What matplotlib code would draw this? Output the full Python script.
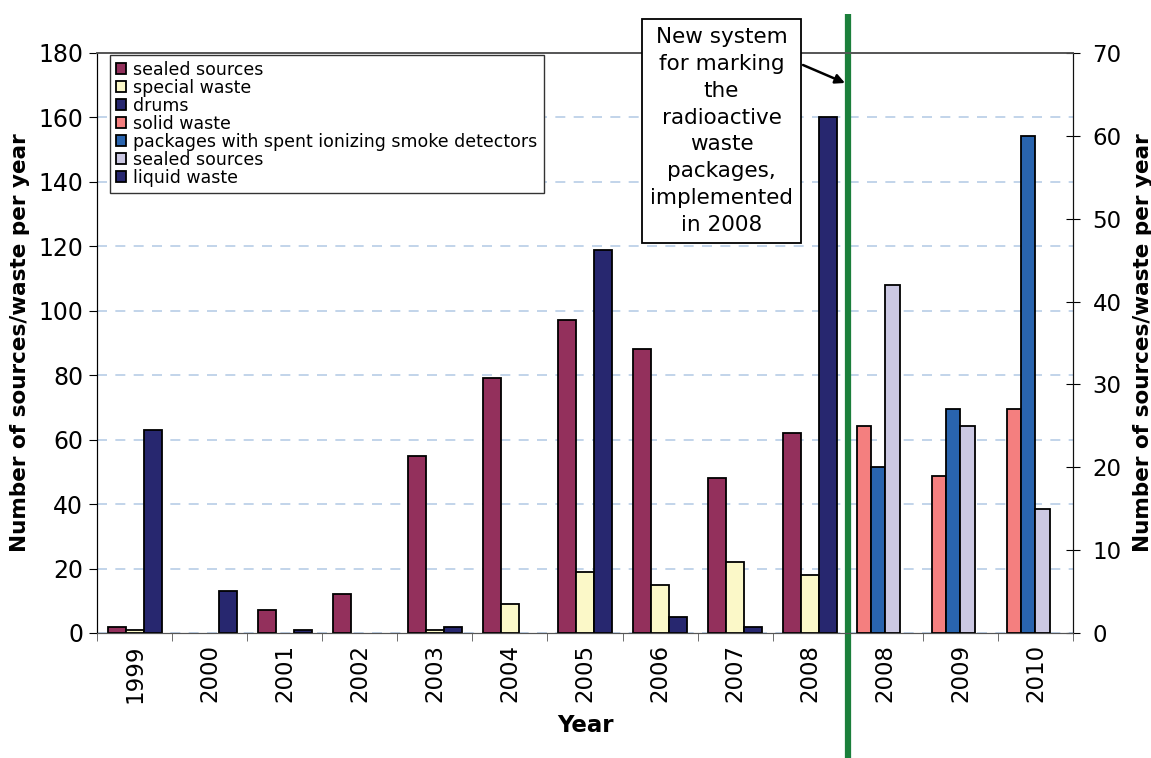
import numpy as np
import matplotlib
matplotlib.use('Agg')
import matplotlib.pyplot as plt
from matplotlib.ticker import MultipleLocator, FixedLocator

# Categories along the x axis (2008 appears twice: old and new marking system)
years = ['1999', '2000', '2001', '2002', '2003', '2004', '2005', '2006',
         '2007', '2008', '2008', '2009', '2010']

# Old system, left axis (1999-2008)
sealed_sources = [2, 0, 7, 12, 55, 79, 97, 88, 48, 62]
special_waste = [1, 0, 0, 0, 1, 9, 19, 15, 22, 18]
drums = [63, 13, 1, 0, 2, 0, 119, 5, 2, 160]

# New system, right axis (2008-2010)
solid_waste = [25, 19, 27]
smoke_detector_packages = [20, 27, 60]
sealed_sources_new = [42, 25, 15]
liquid_waste = [0, 0, 0]

W, H = 1151, 758
fig = plt.figure(figsize=(W / 100, H / 100), dpi=100)
ax = fig.add_axes([97 / W, 1 - 633 / H, 976 / W, 580 / H])
ax2 = ax.twinx()

def bars(axis, xs, vals, off, w, color, label):
    vals = np.array(vals, dtype=float)
    vals[vals == 0] = np.nan
    axis.bar(np.array(xs) + off, vals, w, color=color, edgecolor='black',
             linewidth=1.3, label=label, zorder=3)

old_x = np.arange(10)
w1 = 0.24
bars(ax, old_x, sealed_sources, -w1, w1, '#93305c', 'sealed sources')
bars(ax, old_x, special_waste, 0, w1, '#fbf8c8', 'special waste')
bars(ax, old_x, drums, w1, w1, '#27276f', 'drums')

new_x = np.arange(10, 13)
w2 = 0.19
bars(ax2, new_x, solid_waste, -1.5 * w2, w2, '#f47f7f', 'solid waste')
bars(ax2, new_x, smoke_detector_packages, -0.5 * w2, w2, '#2964ae',
     'packages with spent ionizing smoke detectors')
bars(ax2, new_x, sealed_sources_new, 0.5 * w2, w2, '#cbc8e3', 'sealed sources')
bars(ax2, new_x, liquid_waste, 1.5 * w2, w2, '#27276f', 'liquid waste')

ax.set_xlim(-0.5, 12.5)
ax.set_ylim(0, 180)
ax2.set_ylim(0, 70)
ax.yaxis.set_major_locator(MultipleLocator(20))
ax2.yaxis.set_major_locator(MultipleLocator(10))

ax.yaxis.grid(True, color='#b8cde6', linestyle=(0, (6, 5)), linewidth=1.2)
ax.set_axisbelow(True)

ax.set_xticks(range(len(years)))
ax.set_xticklabels(years, rotation=90, fontsize=16.5)
ax.xaxis.set_minor_locator(FixedLocator(np.arange(-0.5, 13, 1)))
ax.tick_params(axis='x', which='major', length=0, pad=8)
ax.tick_params(axis='x', which='minor', length=6, direction='out', color='#555555')
ax.tick_params(axis='y', labelsize=17, length=6, direction='out', pad=4)
ax2.tick_params(axis='y', labelsize=16.5, length=10, direction='inout', pad=9)

for a in (ax, ax2):
    a.spines['bottom'].set_color('#555555')
    a.spines['top'].set_color('#555555')
    a.spines['top'].set_linewidth(1.2)
ax.spines['left'].set_color('#111111')
ax2.spines['right'].set_color('#111111')

ax.set_xlabel('Year', fontsize=16.5, fontweight='bold', labelpad=8)
ax.set_ylabel('Number of sources/waste per year', fontsize=15.5, fontweight='bold', labelpad=6)
ax2.set_ylabel('Number of sources/waste per year', fontsize=15.5, fontweight='bold', labelpad=8)

h1, l1 = ax.get_legend_handles_labels()
h2, l2 = ax2.get_legend_handles_labels()
leg = ax2.legend(h1 + h2, l1 + l2, loc='upper left',
                 bbox_to_anchor=(13 / 976, 1 - 2 / 580),
                 fontsize=12.5, frameon=True, fancybox=False, edgecolor='#333333',
                 framealpha=1, borderpad=0.35, labelspacing=0.0, handlelength=0.6,
                 handleheight=0.6, handletextpad=0.4, borderaxespad=0)
leg.get_frame().set_linewidth(1.0)

# boundary between the old and the new marking system
ax.axvline(9.5, ymin=-125 / 580, ymax=619 / 580, color='#1b7f3b', linewidth=4.5,
           solid_capstyle='butt', clip_on=False, zorder=5)

fig.text(721.5 / W, 1 - 131 / H,
         'New system\nfor marking\nthe\nradioactive\nwaste\npackages,\nimplemented\nin 2008',
         ha='center', va='center', fontsize=15.5, linespacing=1.42, zorder=6,
         bbox=dict(boxstyle='square,pad=0.38', fc='white', ec='black', lw=1.3))
fig.add_artist(plt.Annotation('', xy=(845 / W, 1 - 83 / H), xycoords='figure fraction',
                              xytext=(803 / W, 1 - 65 / H), textcoords='figure fraction',
                              arrowprops=dict(arrowstyle='-|>', color='black', lw=1.8,
                                              shrinkA=0, shrinkB=0, mutation_scale=14)))

fig.savefig('out.png', dpi=100)
